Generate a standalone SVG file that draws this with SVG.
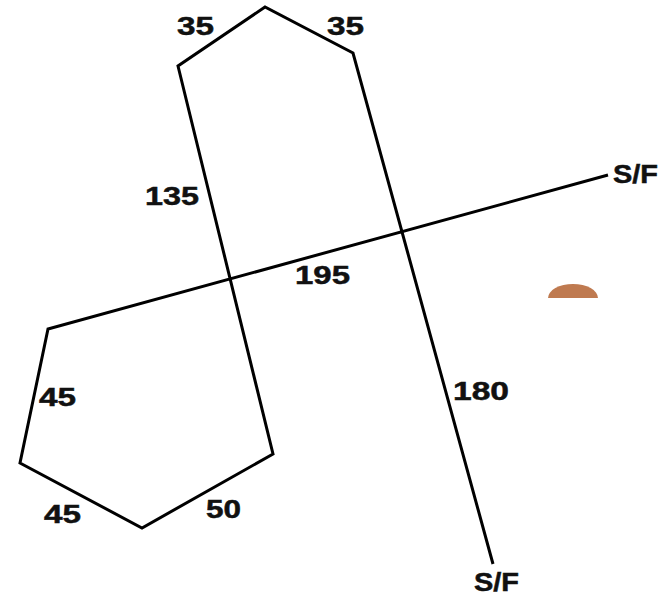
<svg xmlns="http://www.w3.org/2000/svg" width="670" height="597" viewBox="0 0 670 597">
<style>
.ln{fill:none;stroke:#000;stroke-width:3;stroke-linejoin:miter;stroke-linecap:butt}
.t{font-family:"Liberation Sans",Arial,sans-serif;font-weight:bold;font-size:26px;fill:#111;stroke:#111;stroke-width:0.5}
</style>
<rect width="670" height="597" fill="#fff"/>
<g id="track">
<path class="ln" d="M608,175 L48,329 L20,463 L142,528 L273,454 L178,66 L265,7 L353,53 L493,564"/>
</g>
<path id="mound" d="M548,298 A25,14 0 0 1 598,298 Z" fill="#BF7A50"/>
<g id="labels">
<text class="t" x="177" y="35" textLength="37" lengthAdjust="spacingAndGlyphs">35</text>
<text class="t" x="327" y="35" textLength="37" lengthAdjust="spacingAndGlyphs">35</text>
<text class="t" x="145" y="205" textLength="54" lengthAdjust="spacingAndGlyphs">135</text>
<text class="t" x="295" y="284" textLength="55" lengthAdjust="spacingAndGlyphs">195</text>
<text class="t" x="613" y="183" textLength="45" lengthAdjust="spacingAndGlyphs">S/F</text>
<text class="t" x="39" y="406" textLength="37" lengthAdjust="spacingAndGlyphs">45</text>
<text class="t" x="44" y="523" textLength="37" lengthAdjust="spacingAndGlyphs">45</text>
<text class="t" x="206" y="518" textLength="35" lengthAdjust="spacingAndGlyphs">50</text>
<text class="t" x="453" y="400" textLength="56" lengthAdjust="spacingAndGlyphs">180</text>
<text class="t" x="474" y="591" textLength="45" lengthAdjust="spacingAndGlyphs">S/F</text>
</g>
</svg>
